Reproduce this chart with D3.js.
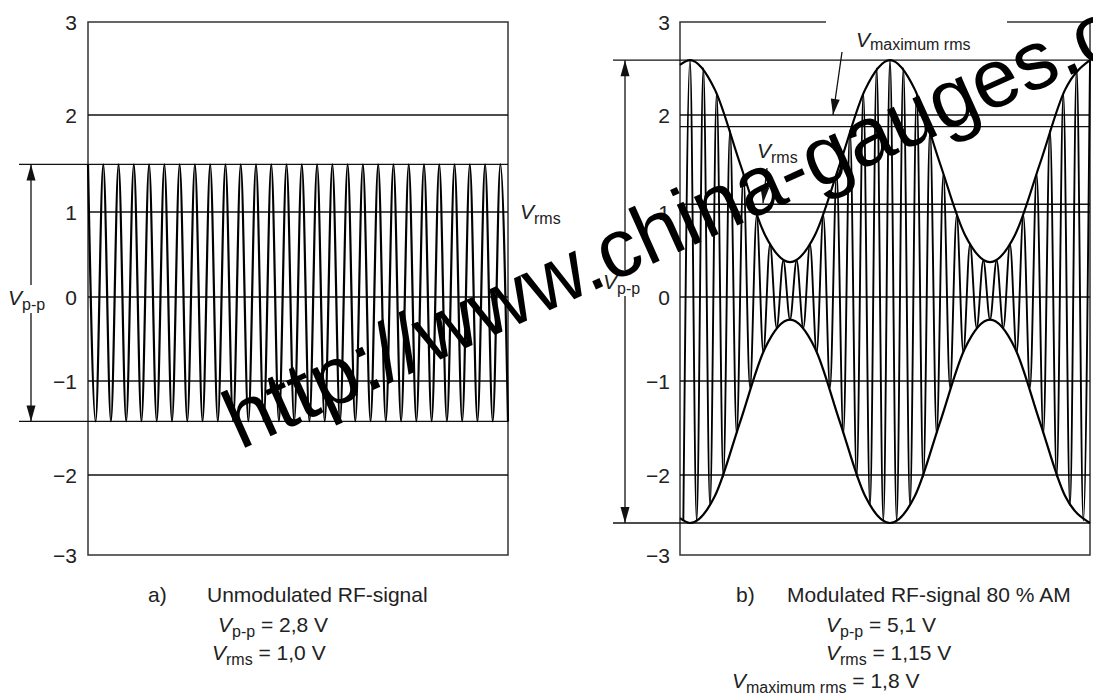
<!DOCTYPE html>
<html>
<head>
<meta charset="utf-8">
<script src="https://cdn.jsdelivr.net/npm/d3@7"></script>
<style>
  body { margin: 0; background: #fff; }
  svg { display: block; }
  text { font-family: "Liberation Sans", Arial, sans-serif; fill: #222; }
</style>
</head>
<body>
<svg id="svg" width="1093" height="700"></svg>
<script>
// ---- values ----
const yTicks = [3, 2, 1, 0, -1, -2, -3];

// a) unmodulated carrier
const leftGrid = [2, 1, 0, -1, -2];
const leftLevels = [1.49, -1.43];          // Vp-p dimension lines
const leftRms = 1.0;
// successive peaks / troughs of the carrier (half cycles)
const leftCarrier = [
  1.49, -1.43, 1.49, -1.43, 1.49, -1.43, 1.49, -1.43, 1.49, -1.43,
  1.49, -1.43, 1.49, -1.43, 1.49, -1.43, 1.49, -1.43, 1.49, -1.43,
  1.49, -1.43, 1.49, -1.43, 1.49, -1.43, 1.49, -1.43, 1.49, -1.43,
  1.49, -1.43, 1.49, -1.43, 1.49, -1.43, 1.49, -1.43, 1.49, -1.43,
  1.49, -1.43, 1.49, -1.43, 1.49, -1.43, 1.49, -1.43, 1.49, -1.43,
  1.49, -1.43, 1.49, -1.43, 1.49, -1.43
];

// b) 80 % AM carrier
const rightGrid = [2, 1.88, 1.08, 1, 0, -1, -2];
const rightLevels = [2.59, -2.6];
const rightRms = 1.08;
const rightMaxRms = 2;
// envelope key points, position in carrier half cycles
const envPos = [-1.5, 0, 3.75, 7.5, 11.25, 15, 18.75, 22.5, 26.25, 30, 33.75, 37.5, 41.25, 45, 48.75, 52.5, 56.25, 60];
const envUpper = [2.54, 2.59, 2.27, 1.5, 0.73, 0.41, 0.73, 1.5, 2.27, 2.59, 2.27, 1.5, 0.73, 0.41, 0.73, 1.5, 2.27, 2.59];
const envLower = [-2.54, -2.6, -2.26, -1.44, -0.61, -0.27, -0.61, -1.44, -2.26, -2.6, -2.26, -1.44, -0.61, -0.27, -0.61, -1.44, -2.26, -2.6];
// carrier peaks / troughs, starting at half cycle -1
const rightCarrier = [
  -2.57,
  2.59, -2.57, 2.50, -2.38, 2.23, -2.02, 1.84, -1.56, 1.39, -1.07,
  0.96, -0.66, 0.62, -0.37, 0.43, -0.27, 0.43, -0.37, 0.62, -0.66,
  0.96, -1.07, 1.39, -1.56, 1.84, -2.02, 2.23, -2.38, 2.50, -2.57, 2.59,
  -2.57, 2.50, -2.38, 2.23, -2.02, 1.84, -1.56, 1.39, -1.07,
  0.96, -0.66, 0.62, -0.37, 0.43, -0.27, 0.43, -0.37, 0.62, -0.66,
  0.96, -1.07, 1.39, -1.56, 1.84, -2.02, 2.23, -2.38, 2.50, -2.57, 2.59
];

// ---- layout ----
const svg = d3.select("#svg");
const ink = "#111";

let yScale = d3.scaleLinear().domain(yTicks).range([22, 115, 212, 297, 381, 475, 555]);
let xLeft = d3.scaleLinear([0, leftCarrier.length - 1], [88, 508]);
let xRight = d3.scaleLinear([-1.5, 60], [680, 1090]);

const fmt = (t) => (t < 0 ? "\u2212" + Math.abs(t) : String(t));

function hline(x1, x2, v, width) {
  svg.append("line")
    .attr("x1", x1).attr("x2", x2)
    .attr("y1", yScale(v)).attr("y2", yScale(v))
    .attr("stroke", ink)
    .attr("stroke-width", width || 1.3);
}

function arrowHead(x, y, dx, dy) {
  // filled triangle with tip at (x, y) pointing along (dx, dy)
  const len = Math.hypot(dx, dy);
  const ux = dx / len, uy = dy / len;
  const L = 16, W = 4.5;
  const bx = x - ux * L, by = y - uy * L;
  svg.append("path")
    .attr("d", `M${x},${y}L${bx - uy * W},${by + ux * W}L${bx + uy * W},${by - ux * W}Z`)
    .attr("fill", ink);
}

function arrow(x1, y1, x2, y2, both) {
  svg.append("line")
    .attr("x1", x1).attr("y1", y1).attr("x2", x2).attr("y2", y2)
    .attr("stroke", ink).attr("stroke-width", 1.3);
  arrowHead(x2, y2, x2 - x1, y2 - y1);
  if (both) arrowHead(x1, y1, x1 - x2, y1 - y2);
}

function vLabel(x, y, sub, rest, opts) {
  opts = opts || {};
  const shift = opts.shift || 5;
  const t = svg.append("text").attr("x", x).attr("y", y).style("font-size", "21px");
  t.append("tspan").attr("font-style", "italic").text("V");
  t.append("tspan").style("font-size", "16px").attr("dy", shift).text(sub);
  if (rest) t.append("tspan").attr("dy", -shift).text(rest);
  return t;
}

function ticks(xRight) {
  svg.append("g").selectAll("text")
    .data(yTicks)
    .join("text")
    .attr("x", xRight)
    .attr("y", (d) => yScale(d))
    .attr("dy", "0.36em")
    .attr("text-anchor", "end")
    .style("font-size", "21px")
    .text(fmt);
}

// ---- a) unmodulated ----
svg.append("rect")
  .attr("x", 88).attr("y", yScale(3))
  .attr("width", 420).attr("height", yScale(-3) - yScale(3))
  .attr("fill", "none").attr("stroke", "#333").attr("stroke-width", 1.5);

leftGrid.forEach((v) => hline(88, 508, v));
leftLevels.forEach((v) => hline(19, 508, v));
ticks(77);

let lineLeft = d3.line()
  .x((d, i) => xLeft(i))
  .y((d) => yScale(d))
  .curve(d3.curveMonotoneX);

svg.append("path")
  .datum(leftCarrier)
  .attr("fill", "none")
  .attr("stroke", "#000")
  .attr("stroke-width", 2.2)
  .attr("d", lineLeft);

arrow(31, yScale(leftLevels[0]), 31, yScale(leftLevels[1]), true);
svg.append("rect").attr("x", 6).attr("y", 285).attr("width", 50).attr("height", 28).attr("fill", "#fff");
vLabel(8, 305, "p-p");
vLabel(520, yScale(leftRms) + 7, "rms");

// ---- b) modulated ----
const boxTop = yScale(3), boxBot = yScale(-3);
svg.append("path")
  .attr("d", `M826,${boxTop}H680V${boxBot}H1090V${boxTop}H1007`)
  .attr("fill", "none").attr("stroke", "#333").attr("stroke-width", 1.5);

rightGrid.forEach((v) => hline(680, 1090, v));
rightLevels.forEach((v) => hline(613, 1090, v));
ticks(670);

let lineRight = d3.line()
  .x((d, i) => xRight(i - 1))
  .y((d) => yScale(d))
  .curve(d3.curveMonotoneX);

svg.append("path")
  .datum(rightCarrier)
  .attr("fill", "none")
  .attr("stroke", "#000")
  .attr("stroke-width", 1.9)
  .attr("d", lineRight);

let envLine = (vals) => d3.line()
  .x((d, i) => xRight(envPos[i]))
  .y((d) => yScale(d))
  .curve(d3.curveMonotoneX)(vals);

[envUpper, envLower].forEach((vals) => {
  svg.append("path")
    .attr("fill", "none")
    .attr("stroke", "#000")
    .attr("stroke-width", 2.2)
    .attr("d", envLine(vals));
});

arrow(625, yScale(rightLevels[0]), 625, yScale(rightLevels[1]), true);
svg.append("rect").attr("x", 601).attr("y", 270).attr("width", 48).attr("height", 26).attr("fill", "#fff");
vLabel(603, 289, "p-p");

vLabel(856, 47, "maximum rms", null, { shift: 3 });
arrow(842, 52, 833, yScale(rightMaxRms));
vLabel(757, 158, "rms");
arrow(767, 168, 763, yScale(rightRms) - 1);

// ---- captions ----
function caption(x, y, str) {
  svg.append("text").attr("x", x).attr("y", y).style("font-size", "21px").text(str);
}
caption(148, 602, "a)");
caption(207, 602, "Unmodulated RF-signal");
vLabel(218, 632, "p-p", " = 2,8 V");
vLabel(212, 660, "rms", " = 1,0 V");

caption(736, 602, "b)");
caption(787, 602, "Modulated RF-signal 80 % AM");
vLabel(826, 632, "p-p", " = 5,1 V");
vLabel(826, 660, "rms", " = 1,15 V");
vLabel(732, 688, "maximum rms", " = 1,8 V");

// ---- watermark ----
svg.append("text")
  .attr("transform", "translate(240,450) rotate(-24.3)")
  .style("font-size", "83px")
  .style("fill", "#000")
  .text("http://www.china-gauges.com");
</script>
</body>
</html>
